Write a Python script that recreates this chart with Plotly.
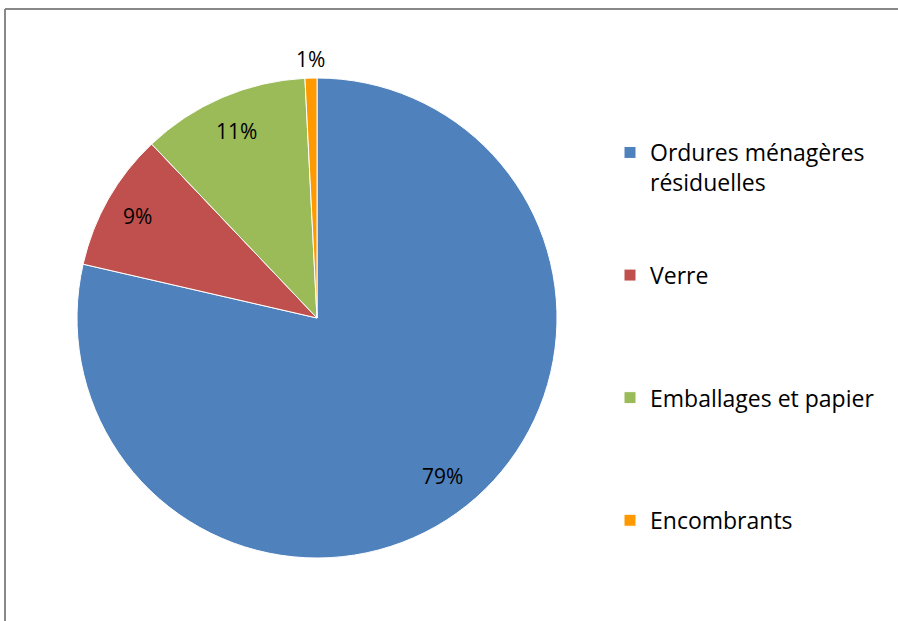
import math
import plotly.graph_objects as go

# ---- data ----
categories = ["Ordures ménagères résiduelles", "Verre", "Emballages et papier", "Encombrants"]
legend_labels = ["Ordures ménagères<br>résiduelles", "Verre", "Emballages et papier", "Encombrants"]
values = [78.6, 9.3, 11.3, 0.8]
colors = ["#4F81BD", "#C0504D", "#9BBB59", "#FF9900"]
label_radius = [0.84, 0.86, 0.85, 1.08]
legend_padding = [2, 3, 3, 0]

W, H = 898, 621
cx, cy, R = 317, 318, 240
FONT = "Open Sans"

total = sum(values)
names = [lab + "<br>\u00a0" * p for lab, p in zip(legend_labels, legend_padding)]

fig = go.Figure(go.Pie(
    labels=names,
    values=values,
    sort=False,
    direction="clockwise",
    rotation=0,
    marker=dict(colors=colors, line=dict(color="white", width=1)),
    textinfo="none",
    hoverinfo="label+percent",
    domain=dict(x=[(cx - R) / W, (cx + R) / W], y=[1 - (cy + R) / H, 1 - (cy - R) / H]),
))

# percentage labels positioned from the data
annotations = []
cum = 0.0
for v, rr in zip(values, label_radius):
    mid = (cum + v / 2) / total * 2 * math.pi
    cum += v
    px = cx + rr * R * math.sin(mid)
    py = cy - rr * R * math.cos(mid)
    annotations.append(dict(
        x=px / W, y=1 - py / H, xref="paper", yref="paper",
        text=f"{round(v / total * 100)}%", showarrow=False,
        xanchor="center", yanchor="middle",
        font=dict(family=FONT, size=21, color="black"),
    ))

fig.update_layout(
    width=W, height=H,
    margin=dict(l=0, r=0, t=0, b=0),
    paper_bgcolor="white",
    plot_bgcolor="white",
    font=dict(family=FONT, color="black"),
    showlegend=True,
    legend=dict(
        x=610 / W, y=1 - 131 / H, xanchor="left", yanchor="top",
        valign="top",
        font=dict(family=FONT, size=23, color="black"),
        bgcolor="rgba(0,0,0,0)",
    ),
    annotations=annotations,
    shapes=[
        dict(type="line", xref="paper", yref="paper",
             x0=5 / W, x1=1.02, y0=1 - 9 / H, y1=1 - 9 / H,
             line=dict(color="#888888", width=2)),
        dict(type="line", xref="paper", yref="paper",
             x0=5 / W, x1=5 / W, y0=1 - 9 / H, y1=-0.02,
             line=dict(color="#888888", width=2)),
    ],
)

fig.write_html(
    "out.html",
    config={"displayModeBar": False},
    post_script="document.body.style.margin='0';document.body.style.overflow='hidden';",
)
